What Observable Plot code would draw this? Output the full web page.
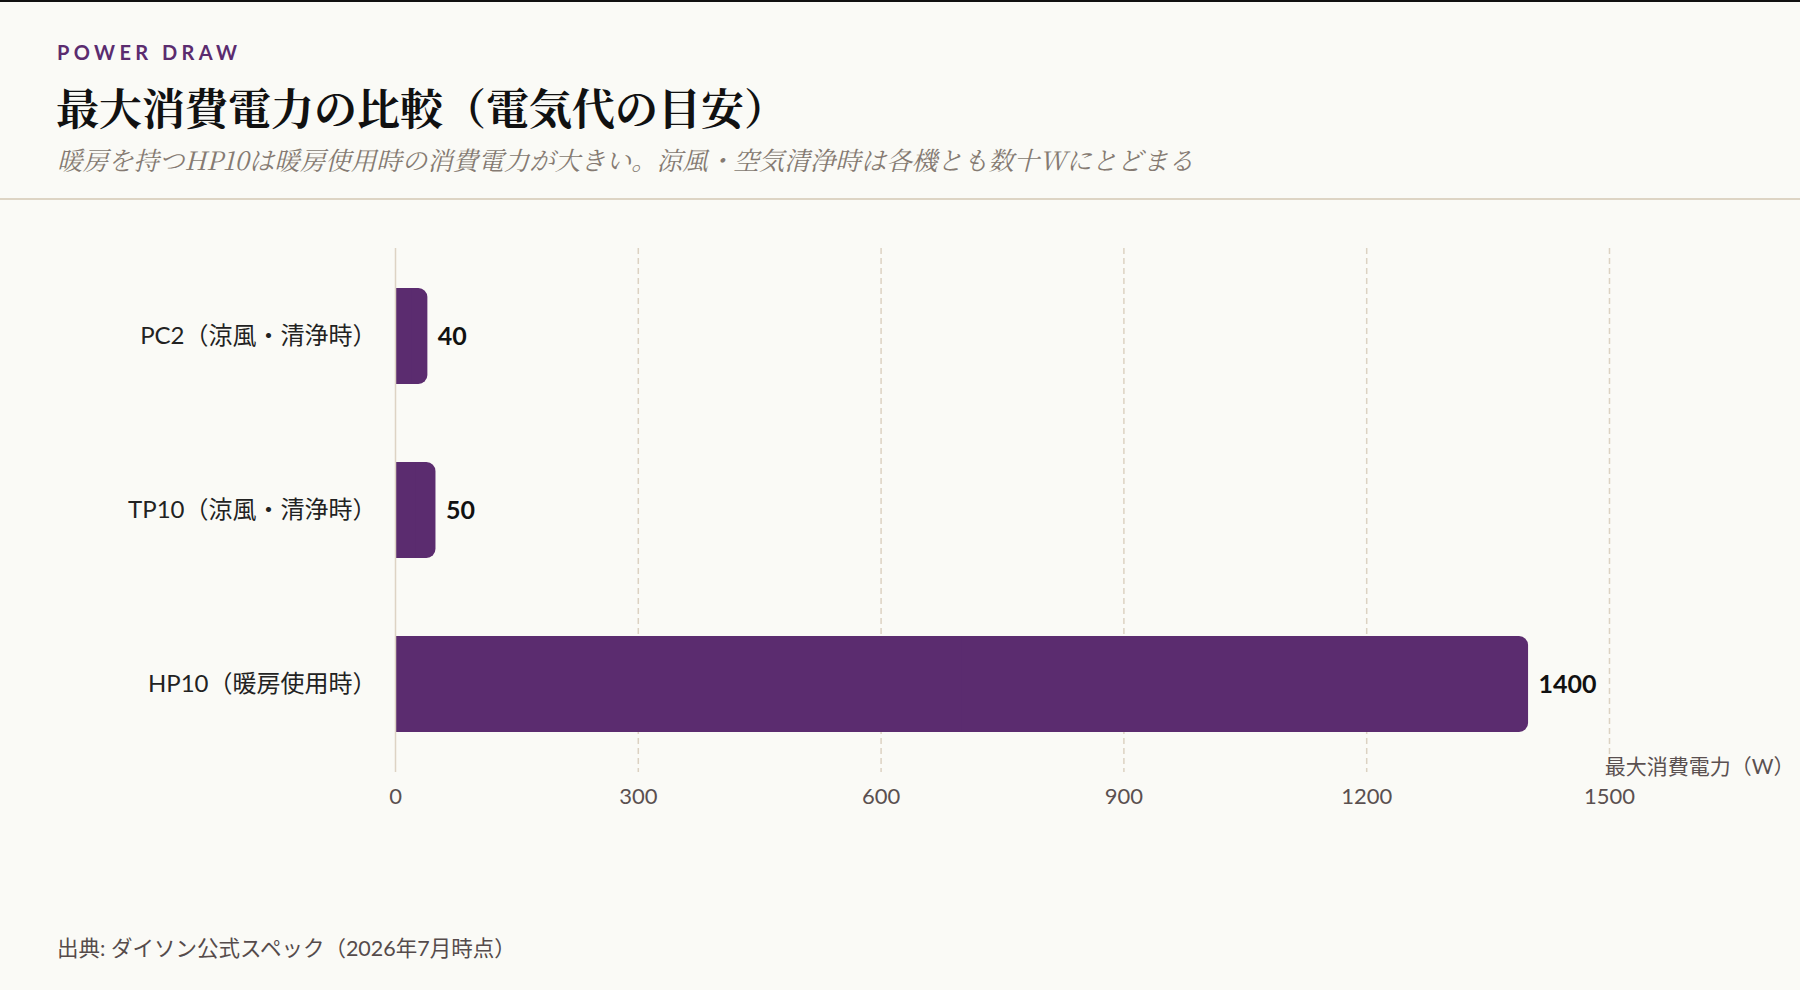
<!DOCTYPE html>
<html lang="ja">
<head>
<meta charset="utf-8">
<script src="https://cdn.jsdelivr.net/npm/d3@7"></script>
<script src="https://cdn.jsdelivr.net/npm/@observablehq/plot@0.6"></script>
<style>
  html, body { margin: 0; padding: 0; }
  body {
    width: 1800px; height: 990px; position: relative; overflow: hidden;
    background: #fafaf6; border-top: 2px solid #111; box-sizing: border-box;
    font-family: "Lato", "Noto Sans CJK JP", sans-serif;
  }
  #kicker {
    position: absolute; left: 57px; top: 39px; margin: 0;
    font-size: 20px; line-height: 22px; font-weight: 700; letter-spacing: 0.22em;
    color: #5b2c6f; font-family: "Lato", "Noto Sans", sans-serif;
  }
  #title {
    position: absolute; left: 56px; top: 79px; margin: 0;
    font-size: 43px; line-height: 52px; font-weight: 700; color: #111;
    font-family: "Noto Serif CJK JP", "Noto Serif JP", "DejaVu Serif", serif;
  }
  #subtitle {
    position: absolute; left: 57px; top: 141px; margin: 0;
    font-size: 25.5px; line-height: 32px; font-style: italic; color: #857a72;
    font-family: "Noto Serif CJK JP", "Noto Serif JP", "DejaVu Serif", serif;
  }
  #divider {
    position: absolute; left: 0; top: 196px; width: 1800px; height: 2px; background: #ddd4c4;
  }
  #chart { position: absolute; left: 0; top: 198px; }
  #footer {
    position: absolute; left: 57px; top: 933px; margin: 0;
    font-size: 21.5px; line-height: 26px; color: #554b4b;
  }
</style>
</head>
<body>
<div id="kicker">POWER DRAW</div>
<div id="title">最大消費電力の比較（電気代の目安）</div>
<div id="subtitle">暖房を持つHP10は暖房使用時の消費電力が大きい。涼風・空気清浄時は各機とも数十Wにとどまる</div>
<div id="divider"></div>
<div id="chart"></div>
<div id="footer">出典: ダイソン公式スペック（2026年7月時点）</div>
<script>
// ---- data ----
const names = ["PC2（涼風・清浄時）", "TP10（涼風・清浄時）", "HP10（暖房使用時）"];
const values = [40, 50, 1400];
const xTicks = [0, 300, 600, 900, 1200, 1500];
const xDomainMax = 1715;
const axisLabel = "最大消費電力（W）";

const data = names.map((name, i) => ({name, value: values[i]}));
const barColor = "#5b2c6f";
const gridColor = "#dcd2c2";

const chart = Plot.plot({
  width: 1800,
  height: 700,
  marginTop: 48,
  marginBottom: 128,
  marginLeft: 395,
  marginRight: 17,
  style: {
    background: "transparent",
    fontFamily: "Lato, 'Noto Sans CJK JP', sans-serif",
    overflow: "visible"
  },
  x: {domain: [0, xDomainMax], axis: null},
  y: {domain: names, paddingInner: 0.45, paddingOuter: 0.225, axis: null},
  marks: [
    Plot.gridX(xTicks.filter(t => t !== 0), {stroke: gridColor, strokeOpacity: 1, strokeWidth: 1.5, strokeDasharray: "6,4"}),
    Plot.axisX(xTicks, {tickSize: 0, tickPadding: 16, fontSize: 22, fill: "#5a5050", label: null, tickFormat: d => String(d)}),
    Plot.axisY(names, {tickSize: 0, tickPadding: 19, fontSize: 24, fill: "#222", label: null}),
    Plot.barX(data, {x: "value", y: "name", fill: barColor, rx: 9}),
    Plot.barX(data, {x1: 0, x2: d => d.value / 2, y: "name", fill: barColor}),
    Plot.ruleX([0], {stroke: "#ddd3c4", strokeWidth: 1.5}),
    Plot.text(data, {x: "value", y: "name", text: d => String(d.value), dx: 10, textAnchor: "start", fontSize: 25, fontWeight: 700, fill: "#111"}),
    Plot.text([axisLabel], {frameAnchor: "bottom-right", text: d => d, dx: 11, dy: 1, fontSize: 21, fill: "#5a5050"})
  ]
});
document.getElementById("chart").appendChild(chart);
</script>
</body>
</html>
